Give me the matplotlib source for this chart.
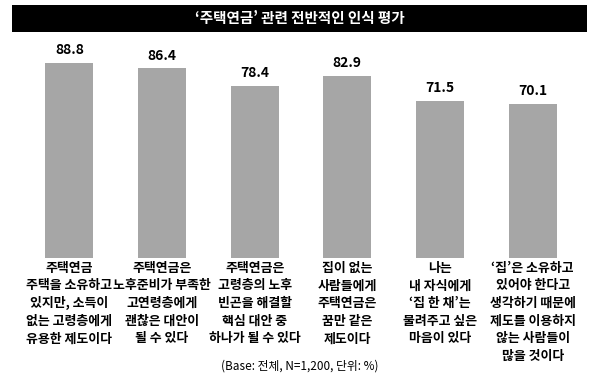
import matplotlib
matplotlib.use("Agg")
import matplotlib.pyplot as plt
from matplotlib.patches import Rectangle

plt.rcParams['font.family'] = ['Noto Sans CJK KR', 'DejaVu Sans']

title = "‘주택연금’ 관련 전반적인 인식 평가"
categories = [
    "주택연금\n주택을 소유하고\n있지만, 소득이\n없는 고령층에게\n유용한 제도이다",
    "주택연금은\n노후준비가 부족한\n고연령층에게\n괜찮은 대안이\n될 수 있다",
    "주택연금은\n고령층의 노후\n빈곤을 해결할\n핵심 대안 중\n하나가 될 수 있다",
    "집이 없는\n사람들에게\n주택연금은\n꿈만 같은\n제도이다",
    "나는\n내 자식에게\n‘집 한 채’는\n물려주고 싶은\n마음이 있다",
    "‘집’은 소유하고\n있어야 한다고\n생각하기 때문에\n제도를 이용하지\n않는 사람들이\n많을 것이다",
]
values = [88.8, 86.4, 78.4, 82.9, 71.5, 70.1]
footnote = "(Base: 전체, N=1,200, 단위: %)"

fig = plt.figure(figsize=(6, 3.84), dpi=100)
fig.patch.set_facecolor('white')

# title bar
fig.patches.append(Rectangle((12/600, 1-32/384), (587-12)/600, 27/384,
                             transform=fig.transFigure, facecolor='black',
                             edgecolor='none', zorder=0))
fig.text(0.5, 1-18.5/384, title, color='white', fontsize=10.5, fontweight='bold',
         ha='center', va='center')

ax = fig.add_axes([23/600, (384-258)/384, 556/600, 219.7/384])
x = list(range(len(values)))
ax.bar(x, values, width=0.52, color='#A6A6A6')
ax.set_xlim(-0.5, len(values)-0.5)
ax.set_ylim(0, 100)
ax.axis('off')

for xi, v in zip(x, values):
    ax.annotate(f"{v:.1f}", (xi, v), xytext=(0, 4), textcoords='offset points',
                ha='center', va='bottom', fontsize=10, fontweight='bold')

for xi, c in zip(x, categories):
    ax.annotate(c, (xi, 0), xytext=(0, -2), textcoords='offset points',
                ha='center', va='top', fontsize=9.3, fontweight='bold',
                linespacing=1.33)

fig.text(0.5, 1-366/384, footnote, ha='center', va='center', fontsize=8.5)

fig.savefig('out.png', dpi=100)
